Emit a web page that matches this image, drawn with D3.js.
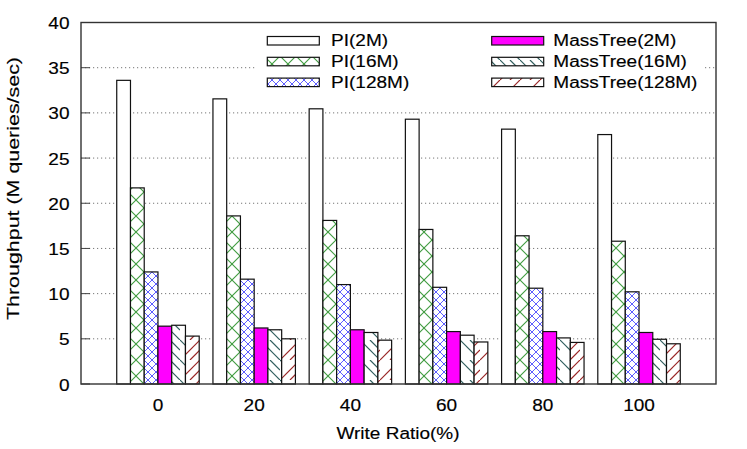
<!DOCTYPE html>
<html>
<head>
<meta charset="utf-8">
<script src="https://cdn.jsdelivr.net/npm/d3@7"></script>
<style>
  body { margin: 0; background: #fff; }
  text { font-family: "Liberation Sans", Arial, Helvetica, sans-serif; fill: #000; }
</style>
</head>
<body>
<script>
// données
const categories = ["0", "20", "40", "60", "80", "100"];
const seriesNames = ["PI(2M)", "PI(16M)", "PI(128M)", "MassTree(2M)", "MassTree(16M)", "MassTree(128M)"];
const pi2M = [33.6, 31.55, 30.45, 29.3, 28.2, 27.6];
const pi16M = [21.7, 18.6, 18.1, 17.1, 16.4, 15.8];
const pi128M = [12.4, 11.6, 11.0, 10.7, 10.6, 10.2];
const mt2M = [6.4, 6.2, 6.0, 5.8, 5.8, 5.7];
const mt16M = [6.5, 6.0, 5.7, 5.4, 5.1, 4.95];
const mt128M = [5.3, 5.0, 4.85, 4.65, 4.6, 4.45];
const yTicks = [0, 5, 10, 15, 20, 25, 30, 35, 40];

const series = [pi2M, pi16M, pi128M, mt2M, mt16M, mt128M];
const fills = ["#fff", "url(#pGreen)", "url(#pBlue)", "#ff00ff", "url(#pTeal)", "url(#pRed)"];

const width = 747, height = 449;
const plotL = 81, plotR = 716, plotT = 22.5, plotB = 384;
const fs = 15.6, stretch = 1.22;

const svg = d3.select("body").append("svg").attr("width", width).attr("height", height);

// motifs
const defs = svg.append("defs");
function pattern(id, size, lines, color, sw) {
    const p = defs.append("pattern").attr("id", id).attr("patternUnits", "userSpaceOnUse")
        .attr("width", size).attr("height", size);
    p.append("rect").attr("width", size).attr("height", size).attr("fill", "#fff");
    lines.forEach(l => {
        p.append("line").attr("x1", l[0]).attr("y1", l[1]).attr("x2", l[2]).attr("y2", l[3])
            .attr("stroke", color).attr("stroke-width", sw);
    });
}
pattern("pGreen", 16, [[0, 0, 16, 16], [16, 0, 0, 16]], "#3d9b3d", 1.1);
pattern("pBlue", 8, [[0, 0, 8, 8], [8, 0, 0, 8]], "#4b4bff", 0.9);
pattern("pTeal", 20, [[0, 0, 20, 20], [-10, 10, 0, 20], [10, 0, 20, 10]], "#2f5d5d", 1.2);
pattern("pRed", 20, [[0, 20, 20, 0], [-10, 10, 0, 0], [10, 20, 20, 10]], "#992525", 1.2);

const x = d3.scaleLinear().domain([-0.8, 5.8]).range([plotL, plotR]);
const y = d3.scaleLinear().domain([0, 40]).range([plotB, plotT]);
const bw = (x(1) - x(0)) / 7;

function label(g, px, py, s, anchor, size = fs, sx = stretch, rot = 0) {
    return g.append("text")
        .attr("transform", `translate(${px},${py}) rotate(${rot}) scale(${sx},1)`)
        .attr("text-anchor", anchor).attr("font-size", size)
        .attr("stroke", "#000").attr("stroke-width", 0.15)
        .text(s);
}

// grille
svg.append("g").selectAll("line").data(yTicks.slice(1, -1)).enter().append("line")
    .attr("x1", plotL).attr("x2", plotR).attr("y1", d => y(d)).attr("y2", d => y(d))
    .attr("stroke", "#777").attr("stroke-width", 1).attr("stroke-dasharray", "1.2,2.8");

// fond de la légende
svg.append("rect").attr("x", 255).attr("y", 30).attr("width", 450).attr("height", 63).attr("fill", "#fff");

// barres
const bars = svg.append("g");
series.forEach((vals, j) => {
    bars.selectAll(null).data(vals).enter().append("rect")
        .attr("x", (d, i) => x(i) + (j - 3) * bw)
        .attr("y", d => y(d))
        .attr("width", bw)
        .attr("height", d => y(0) - y(d))
        .attr("fill", fills[j])
        .attr("stroke", "#111").attr("stroke-width", 1.2);
});

// ticks y
const ax = svg.append("g");
yTicks.forEach(t => {
    ax.append("line").attr("x1", plotL).attr("x2", plotL + 9).attr("y1", y(t)).attr("y2", y(t))
        .attr("stroke", "#444").attr("stroke-width", 1);
    label(ax, 69.5, y(t) + 6.5, t, "end");
});

// ticks x
categories.forEach((c, i) => label(ax, x(i), 411, c, "middle"));

// cadre
svg.append("rect").attr("x", plotL).attr("y", plotT).attr("width", plotR - plotL).attr("height", plotB - plotT)
    .attr("fill", "none").attr("stroke", "#333").attr("stroke-width", 1.4);

// titres des axes
label(svg, 398, 438.5, "Write Ratio(%)", "middle", 16.3, 1.165);
label(svg, 18.5, 188.5, "Throughput (M queries/sec)", "middle", 17, 1.26, -90);

// légende
const leg = svg.append("g");
const rowsY = [46, 66.8, 87.6];
seriesNames.forEach((name, j) => {
    const col = Math.floor(j / 3), row = j % 3;
    const sx = col === 0 ? 267.3 : 491.7;
    const tx = col === 0 ? 331 : 553.3;
    leg.append("rect").attr("x", sx).attr("y", rowsY[row] - 9.5).attr("width", 52).attr("height", 8.5)
        .attr("fill", fills[j]).attr("stroke", "#111").attr("stroke-width", 1.2);
    label(leg, tx, rowsY[row], name, "start");
});
</script>
</body>
</html>
